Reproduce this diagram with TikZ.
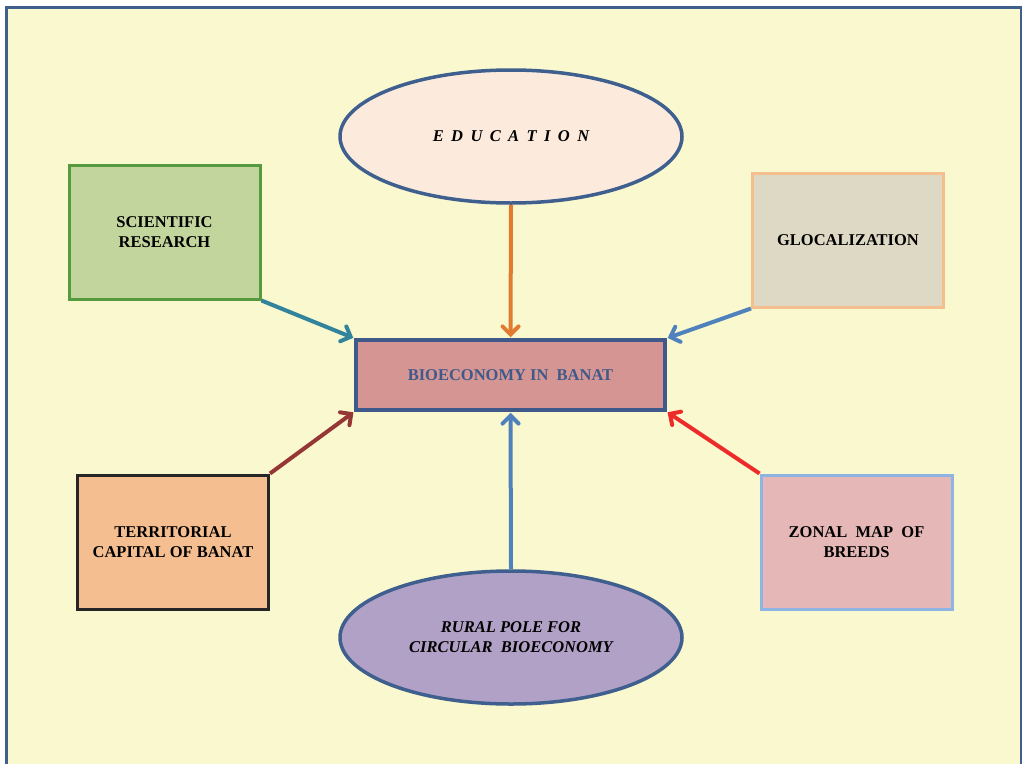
\documentclass[tikz,border=0pt]{standalone}
\usepackage{fontspec}
\setmainfont{Liberation Serif}
\usetikzlibrary{arrows.meta,shapes.geometric}
\definecolor{frame1}{HTML}{3F5F8F}
\definecolor{back1}{HTML}{FAF8CE}
\definecolor{edu1}{HTML}{FCEBDD}
\definecolor{sci1}{HTML}{C2D59C}
\definecolor{sci2}{HTML}{559A3E}
\definecolor{glo1}{HTML}{DDD9C4}
\definecolor{glo2}{HTML}{F4BF8E}
\definecolor{bio1}{HTML}{D49593}
\definecolor{bio2}{HTML}{3F5A8A}
\definecolor{ter1}{HTML}{F5BE91}
\definecolor{ter2}{HTML}{262626}
\definecolor{zon1}{HTML}{E5B8B7}
\definecolor{zon2}{HTML}{8EB4E3}
\definecolor{rur1}{HTML}{B2A1C7}
\definecolor{ar1}{HTML}{E07B30}
\definecolor{ar2}{HTML}{31849B}
\definecolor{ar3}{HTML}{4F81BD}
\definecolor{ar4}{HTML}{953735}
\definecolor{ar5}{HTML}{EE2B2B}

\begin{document}
\begin{tikzpicture}[x=1pt,y=-1pt,
    txt/.style={align=center,font=\bfseries\fontsize{16.5}{20}\selectfont},
    box/.style={txt,draw,line width=3pt,minimum width=191pt,minimum height=134pt,inner sep=0pt},
    oval/.style={txt,ellipse,draw=frame1,line width=3.5pt,minimum width=342pt,minimum height=133pt,inner sep=0pt},
    arr/.style={line width=4pt,-{Straight Barb[length=8pt,width=16pt,line cap=round]},shorten >=1pt}]

    \useasboundingbox (0,0) rectangle (1022,763);
    \fill[white] (0,0) rectangle (1022,763);
    \draw[frame1,fill=back1,line width=3pt] (6.5,7) rectangle (1021,800);

    \node[box,draw=bio2,fill=bio1,line width=3.5pt,minimum width=309pt,minimum height=70pt,text=bio2] (bio) at (510.5,375) {BIOECONOMY IN~~BANAT};
    \node[oval,fill=edu1,font=\bfseries\itshape\fontsize{16.5}{20}\selectfont] (edu) at (511,136.5) {\spaceskip=7.4pt E D U C A T I O N};
    \node[oval,fill=rur1,font=\bfseries\itshape\fontsize{16.5}{20}\selectfont] (rur) at (511,637.5) {RURAL POLE FOR\\CIRCULAR~~BIOECONOMY};
    \node[box,draw=sci2,fill=sci1] (sci) at (164.5,232) {SCIENTIFIC\\RESEARCH};
    \node[box,draw=glo2,fill=glo1] (glo) at (848,240) {GLOCALIZATION};
    \node[box,draw=ter2,fill=ter1] (ter) at (173,542) {TERRITORIAL\\CAPITAL OF BANAT};
    \node[box,draw=zon2,fill=zon1] (zon) at (856.5,542) {ZONAL~~MAP~~OF\\BREEDS};

    \draw[arr,ar1] (edu.south) -- (bio.north);
    \draw[arr,ar2] (sci.south east) -- (bio.north west);
    \draw[arr,ar3] (glo.south west) -- (bio.north east);
    \draw[arr,ar4] (ter.north east) -- (bio.south west);
    \draw[arr,ar5] (zon.north west) -- (bio.south east);
    \draw[arr,ar3] (rur.north) -- (bio.south);

\end{tikzpicture}
\end{document}
